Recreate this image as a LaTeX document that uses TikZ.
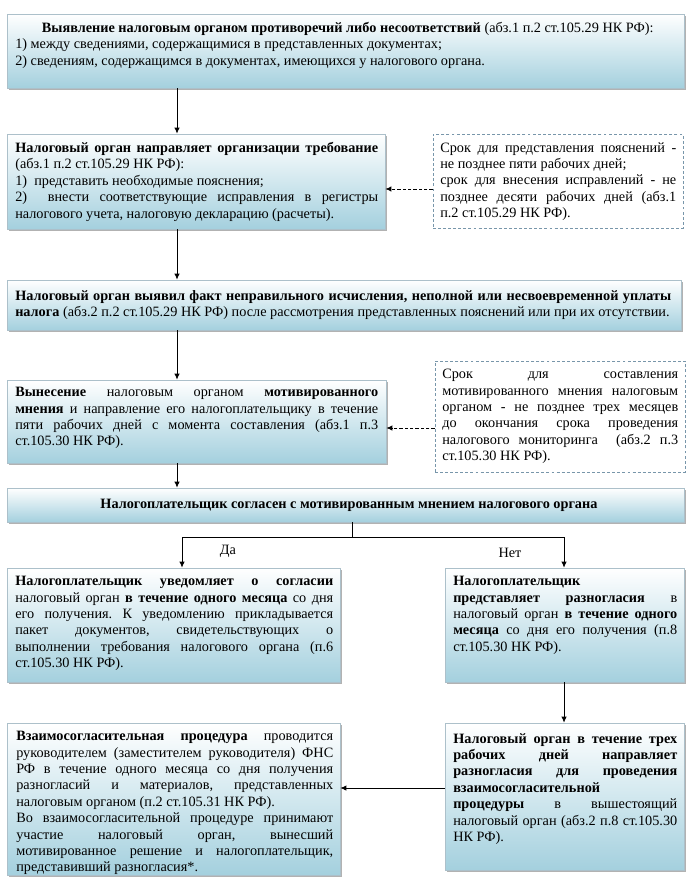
\documentclass[tikz,border=0pt]{standalone}
\usepackage{fontspec}
\setmainfont{Liberation Serif}
\usetikzlibrary{fit,shadows,arrows.meta,calc}
\tolerance=10000
\hbadness=10000
\hfuzz=20pt
\frenchspacing
\definecolor{boxblue}{RGB}{164,208,222}
\definecolor{boxedge}{RGB}{172,192,202}
\definecolor{dashedge}{RGB}{120,150,170}
\newcommand{\txtfont}{\fontsize{10.7}{12.3}\selectfont}
\tikzset{
 boxshape/.style={draw=boxedge, line width=0.5pt, top color=white, bottom color=boxblue, inner sep=0pt,
   drop shadow={shadow xshift=1.6pt, shadow yshift=-1.6pt, fill=black!50, opacity=0.6}},
 dashbox/.style={draw=dashedge, dash pattern=on 2.2pt off 1.6pt, line width=0.5pt, fill=white, inner sep=0pt},
 txt/.style={anchor=north west, inner sep=0pt, align=justify, text width=#1, font=\txtfont},
 lbl/.style={inner sep=0pt, font=\txtfont},
 arr/.style={-{Latex[length=4.5pt,width=4pt]}, line width=0.6pt},
 darr/.style={arr, dash pattern=on 2.5pt off 1.5pt},
}
\begin{document}
\begin{tikzpicture}[x=0.75pt,y=-0.75pt]
\useasboundingbox[fill=white] (0,0) rectangle (689,884);

% boxes
\node[boxshape, fit={(7,14) (684,88)}] (b1) {};
\node[boxshape, fit={(7,134) (385,229)}] (b2) {};
\node[dashbox, fit={(433,134) (683,228)}] (d1) {};
\node[boxshape, fit={(7,280) (681,330)}] (b3) {};
\node[boxshape, fit={(7,380) (386,463)}] (b4) {};
\node[dashbox, fit={(435,361) (685,472)}] (d2) {};
\node[boxshape, fit={(7,488) (684,522)}] (b5) {};
\node[boxshape, fit={(7,568) (340,682)}] (b6) {};
\node[boxshape, fit={(445,568) (684,682)}] (b7) {};
\node[boxshape, fit={(445,723) (684,870)}] (b8) {};
\node[boxshape, fit={(7,723) (340,875)}] (b9) {};

% texts
\node[txt=495.75pt] (t1) at (15,22) {\hspace*{20pt}\textbf{Выявление налоговым органом противоречий либо несоответствий} (абз.1 п.2 ст.105.29 НК РФ):\\
1) между сведениями, содержащимися в представленных документах;\\
2) сведениям, содержащимся в документах, имеющихся у налогового органа.};

\node[txt=272.25pt] (t2) at (15,142) {\textbf{Налоговый орган направляет организации требование} (абз.1 п.2 ст.105.29 НК РФ):\\
1)\ \ представить необходимые пояснения;\\
2)\ \ внести соответствующие исправления в регистры\linebreak налогового учета, налоговую декларацию (расчеты).};

\node[txt=177pt] (td1) at (440,142) {Срок для представления пояснений~-\linebreak не позднее пяти рабочих дней;\\
срок для внесения исправлений - не\linebreak позднее десяти рабочих дней (абз.1\linebreak п.2 ст.105.29 НК РФ).};

\node[txt=492pt] (t3) at (15,290) {\textbf{Налоговый орган выявил факт неправильного исчисления, неполной или несвоевременной уплаты\linebreak налога} (абз.2 п.2 ст.105.29 НК РФ) после рассмотрения представленных пояснений или при их отсутствии.};

\node[txt=272.25pt] (t4) at (15,387) {\textbf{Вынесение} налоговым органом \textbf{мотивированного\linebreak мнения} и направление его налогоплательщику в течение\linebreak пяти рабочих дней с момента составления (абз.1 п.3\linebreak ст.105.30 НК РФ).};

\node[txt=177pt] (td2) at (442,369) {Срок для составления\linebreak мотивированного мнения налоговым\linebreak органом - не позднее трех месяцев\linebreak до окончания срока проведения\linebreak налогового мониторинга\ \ (абз.2 п.3\linebreak ст.105.30 НК РФ).};

\node[lbl, font=\txtfont\bfseries] (t5) at (349,505) {Налогоплательщик согласен с мотивированным мнением налогового органа};

\node[txt=238.5pt] (t6) at (15,576) {\textbf{Налогоплательщик уведомляет о согласии}\linebreak налоговый орган \textbf{в течение одного месяца} со дня\linebreak его получения. К уведомлению прикладывается\linebreak пакет документов, свидетельствующих о\linebreak выполнении требования налогового органа (п.6\linebreak ст.105.30 НК РФ).};

\node[txt=168pt] (t7) at (453,576) {\textbf{Налогоплательщик}\\
\textbf{представляет разногласия} в\linebreak налоговый орган \textbf{в течение одного\linebreak месяца} со дня его получения (п.8\linebreak ст.105.30 НК РФ).};

\node[txt=168pt] (t8) at (453,733) {\textbf{Налоговый орган в течение трех\linebreak рабочих дней направляет\linebreak разногласия для проведения\linebreak взаимосогласительной}\\
\textbf{процедуры} в вышестоящий\linebreak налоговый орган (абз.2 п.8 ст.105.30\linebreak НК РФ).};

\node[txt=237.75pt] (t9) at (16,731) {\textbf{Взаимосогласительная процедура} проводится\linebreak руководителем (заместителем руководителя) ФНС\linebreak РФ в течение одного месяца со дня получения\linebreak разногласий и материалов, представленных\linebreak налоговым органом (п.2 ст.105.31 НК РФ).\\
Во взаимосогласительной процедуре принимают\linebreak участие налоговый орган, вынесший\linebreak мотивированное решение и налогоплательщик,\linebreak представивший разногласия*.};

% connectors
\coordinate (colA) at (177,0);
\draw[arr] (b1.south -| colA) -- (b2.north -| colA);
\draw[arr] (b2.south -| colA) -- (b3.north -| colA);
\draw[arr] (b3.south -| colA) -- (b4.north -| colA);
\draw[arr] (b4.south -| colA) -- (b5.north -| colA);
\coordinate (rowD1) at (0,189);
\draw[darr] (d1.west |- rowD1) -- (b2.east |- rowD1);
\coordinate (rowD2) at (0,428);
\draw[darr] (d2.west |- rowD2) -- (b4.east |- rowD2);
\coordinate (split) at (352,537);
\coordinate (colL) at (182,0);
\coordinate (colR) at (564,0);
\draw[line width=0.6pt] (b5.south -| split) -- (split);
\draw[arr] (split) -| (b6.north -| colL);
\draw[arr] (split) -| (b7.north -| colR);
\draw[arr] (b7.south -| colR) -- (b8.north -| colR);
\coordinate (rowH) at (0,788);
\draw[arr] (b8.west |- rowH) -- (b9.east |- rowH);

\node[lbl] (yes) at (228,551) {Да};
\node[lbl] (no) at (510,553) {Нет};
\end{tikzpicture}
\end{document}
